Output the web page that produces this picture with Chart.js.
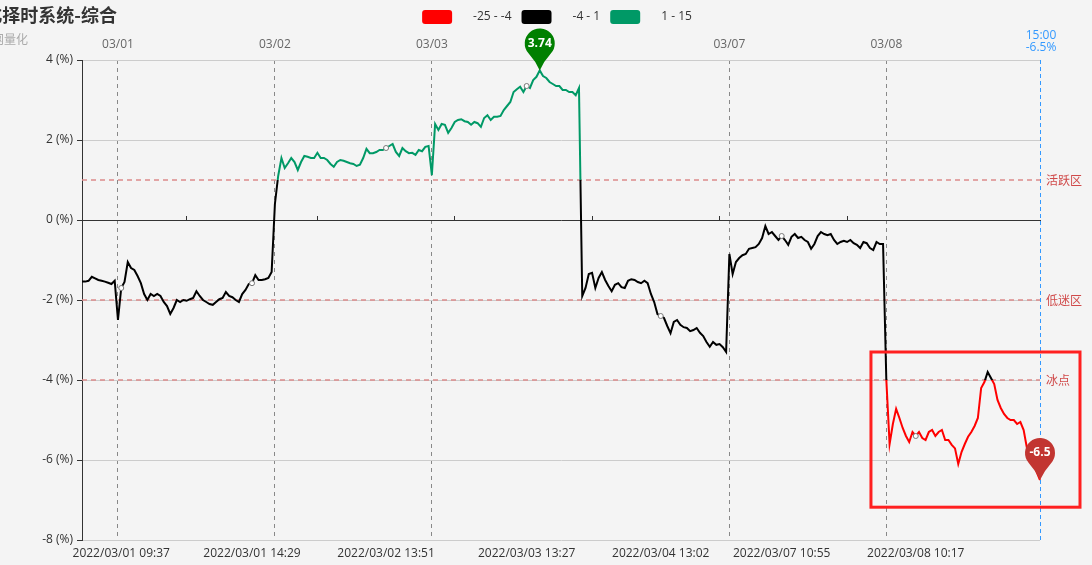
<!DOCTYPE html>
<html>
<head>
<meta charset="utf-8">
<script src="https://cdn.jsdelivr.net/npm/chart.js@4"></script>
<style>
  html, body { margin: 0; padding: 0; background: #f4f4f4; }
  #wrap { width: 1092px; height: 565px; position: relative; }
</style>
</head>
<body>
<div id="wrap"><canvas id="timingChart"></canvas></div>
<script>
// 5-minute bars, one array per trading day (values in %)
const tail0228 = [-1.54, -1.54, -1.52, -1.42, -1.46, -1.5, -1.52, -1.54, -1.57, -1.6, -1.52];
const d0301 = [-2.5, -1.7, -1.55, -1.05, -1.2, -1.25, -1.4, -1.58, -1.85, -2.0, -1.85, -1.9, -1.85, -1.9, -2.05, -2.15,
  -2.35, -2.2, -2.0, -2.05, -2.0, -2.02, -1.98, -1.95, -1.78, -1.9, -2.0, -2.05, -2.1, -2.12, -2.05, -1.98,
  -1.95, -1.8, -1.9, -1.93, -2.0, -2.05, -1.85, -1.75, -1.6, -1.58, -1.38, -1.5, -1.5, -1.48, -1.45, -1.3];
const d0302 = [0.4, 1.1, 1.55, 1.3, 1.42, 1.55, 1.45, 1.25, 1.45, 1.6, 1.58, 1.55, 1.55, 1.68, 1.55, 1.55,
  1.5, 1.4, 1.33, 1.45, 1.5, 1.48, 1.45, 1.42, 1.4, 1.35, 1.38, 1.55, 1.78, 1.67, 1.67, 1.7,
  1.75, 1.75, 1.8, 1.85, 1.9, 1.7, 1.6, 1.8, 1.72, 1.67, 1.68, 1.63, 1.75, 1.72, 1.83, 1.85];
const d0303 = [1.12, 2.4, 2.25, 2.4, 2.38, 2.18, 2.3, 2.45, 2.5, 2.52, 2.47, 2.45, 2.38, 2.45, 2.42, 2.33,
  2.55, 2.62, 2.5, 2.58, 2.58, 2.6, 2.75, 2.85, 2.95, 3.2, 3.27, 3.33, 3.2, 3.35, 3.3, 3.5,
  3.58, 3.74, 3.6, 3.55, 3.45, 3.4, 3.35, 3.35, 3.25, 3.25, 3.2, 3.2, 3.12, 3.3];
const d0304 = [-1.9, -1.7, -1.35, -1.32, -1.7, -1.45, -1.3, -1.5, -1.65, -1.78, -1.62, -1.58, -1.68, -1.7, -1.52,
  -1.48, -1.5, -1.55, -1.58, -1.52, -1.58, -1.85, -2.05, -2.35, -2.4, -2.45, -2.65, -2.83, -2.55, -2.5,
  -2.62, -2.68, -2.7, -2.78, -2.75, -2.7, -2.82, -2.9, -3.05, -3.17, -3.05, -3.12, -3.1, -3.18, -3.3];
const d0307 = [-0.85, -1.35, -1.05, -0.95, -0.88, -0.85, -0.72, -0.7, -0.68, -0.6, -0.45, -0.15, -0.35, -0.3, -0.4, -0.5,
  -0.4, -0.5, -0.62, -0.42, -0.35, -0.45, -0.42, -0.5, -0.55, -0.72, -0.6, -0.4, -0.3, -0.35, -0.38, -0.35,
  -0.5, -0.6, -0.55, -0.52, -0.55, -0.5, -0.58, -0.62, -0.7, -0.55, -0.58, -0.7, -0.75, -0.55, -0.6, -0.6];
const d0308 = [-4.0, -5.6, -5.1, -4.72, -4.95, -5.2, -5.4, -5.55, -5.3, -5.4, -5.3, -5.45, -5.5, -5.3, -5.25, -5.4,
  -5.3, -5.25, -5.5, -5.5, -5.62, -5.71, -6.1, -5.8, -5.6, -5.42, -5.3, -5.15, -4.95, -4.2, -4.05, -3.8,
  -3.95, -4.1, -4.5, -4.7, -4.85, -4.95, -5.0, -5.0, -5.1, -5.05, -5.25, -5.7, -6.0, -6.1, -6.3, -6.5];

const dayDates = ['2022/02/28', '2022/03/01', '2022/03/02', '2022/03/03', '2022/03/04', '2022/03/07', '2022/03/08'];
const dayValues = [tail0228, d0301, d0302, d0303, d0304, d0307, d0308];

// visualMap pieces
const pieceLabels = ['-25 - -4', '-4 - 1', '1 - 15'];
const pieceBounds = [-25, -4, 1, 15];
const pieceColors = ['#ff0000', '#000000', '#009966'];

// marked zones
const zoneValues = [1, -2, -4];
const zoneNames = ['活跃区', '低迷区', '冰点'];

const topDays = ['03/01', '03/02', '03/03', '03/07', '03/08'];
const bottomTicks = ['2022/03/01 09:37', '2022/03/01 14:29', '2022/03/02 13:51', '2022/03/03 13:27',
  '2022/03/04 13:02', '2022/03/07 10:55', '2022/03/08 10:17'];

const titleText = '量化择时系统-综合';
const subTitleText = '网量化';

// bar end times of a session: 09:35 ... 11:30, 13:05 ... 15:00
const sessionTimes = [];
for (let m = 5; m <= 240; m += 5) {
  const t = m <= 120 ? 570 + m : 780 + m - 120;
  sessionTimes.push(String(Math.floor(t / 60)).padStart(2, '0') + ':' + String(t % 60).padStart(2, '0'));
}
function sessionMinute(hhmm) {
  const [h, m] = hhmm.split(':').map(Number);
  const t = h * 60 + m;
  return t <= 690 ? t - 570 : t - 780 + 120;
}

const labels = [];
const values = [];
dayValues.forEach((vals, d) => {
  const times = d === 0 ? sessionTimes.slice(-vals.length) : sessionTimes.slice(0, vals.length);
  vals.forEach((v, i) => {
    labels.push(dayDates[d] + ' ' + times[i]);
    values.push(v);
  });
});

const bottomIdx = bottomTicks.map(s => {
  const [d, t] = s.split(' ');
  const tm = sessionMinute(t);
  return labels.findIndex(l => {
    const [ld, lt] = l.split(' ');
    return ld === d && sessionMinute(lt) >= tm;
  });
});
const topIdx = topDays.map(day => labels.findIndex(l => l.startsWith('2022/' + day)));
const zeroTickIdx = bottomIdx.slice(1).map((v, i) => Math.floor((v + bottomIdx[i]) / 2));

const lastIdx = values.length - 1;
const maxIdx = values.indexOf(Math.max(...values));

function lineGradient(chart) {
  const {ctx, chartArea, scales} = chart;
  if (!chartArea) return '#000';
  const top = chartArea.top, h = chartArea.bottom - chartArea.top;
  const g = ctx.createLinearGradient(0, top, 0, chartArea.bottom);
  let prev = 0;
  for (let k = pieceColors.length - 1; k >= 0; k--) {
    const lowPx = scales.y.getPixelForValue(pieceBounds[k]);
    const f = Math.min(1, Math.max(0, (lowPx - top) / h));
    g.addColorStop(prev, pieceColors[k]);
    g.addColorStop(f, pieceColors[k]);
    prev = f;
  }
  return g;
}

function drawPin(ctx, x, tipY, color, text) {
  const r = 15, cy = tipY - 27;
  const a = 0.85;
  ctx.save();
  ctx.fillStyle = color;
  ctx.beginPath();
  ctx.arc(x, cy, r, Math.PI / 2 + a, Math.PI / 2 - a);
  ctx.quadraticCurveTo(x + 4, tipY - 9, x, tipY);
  ctx.quadraticCurveTo(x - 4, tipY - 9, x - r * Math.sin(a), cy + r * Math.cos(a));
  ctx.closePath();
  ctx.fill();
  ctx.fillStyle = '#fff';
  ctx.font = "bold 12px 'Open Sans', sans-serif";
  ctx.textAlign = 'center';
  ctx.textBaseline = 'middle';
  ctx.fillText(text, x, cy);
  ctx.restore();
}

const overlay = {
  id: 'overlay',
  beforeDatasetsDraw(chart) {
    const {ctx, chartArea: a, scales: {x, y}} = chart;
    ctx.save();
    ctx.strokeStyle = '#dc8a8a';
    ctx.lineWidth = 1.5;
    ctx.setLineDash([5, 4]);
    zoneValues.forEach(v => {
      const py = y.getPixelForValue(v);
      ctx.beginPath();
      ctx.moveTo(a.left, py);
      ctx.lineTo(a.right, py);
      ctx.stroke();
    });
    const lx = Math.round(x.getPixelForValue(lastIdx)) + 0.5;
    ctx.strokeStyle = '#3399ff';
    ctx.lineWidth = 1;
    ctx.setLineDash([4, 3]);
    ctx.beginPath();
    ctx.moveTo(lx, a.top);
    ctx.lineTo(lx, a.bottom);
    ctx.stroke();
    ctx.restore();
  },
  afterDatasetsDraw(chart) {
    const {ctx, chartArea: a, scales: {x, y}} = chart;
    // highlight box around the latest slump
    const bx0 = x.getPixelForValue(241.3), bx1 = a.right + 40;
    const by0 = y.getPixelForValue(-3.3), by1 = y.getPixelForValue(-7.18);
    ctx.save();
    ctx.strokeStyle = '#ff2020';
    ctx.lineWidth = 3;
    ctx.strokeRect(bx0, by0, bx1 - bx0, by1 - by0);
    ctx.restore();

    drawPin(ctx, x.getPixelForValue(maxIdx), y.getPixelForValue(values[maxIdx]), '#008000', String(values[maxIdx]));
    drawPin(ctx, x.getPixelForValue(lastIdx), y.getPixelForValue(values[lastIdx]), '#c23531', String(values[lastIdx]));
  },
  afterDraw(chart) {
    const {ctx, chartArea: a, scales: {x, y}} = chart;
    ctx.save();
    // title
    ctx.textBaseline = 'middle';
    ctx.textAlign = 'right';
    ctx.fillStyle = '#333';
    ctx.font = "bold 18px 'Noto Sans CJK SC', sans-serif";
    ctx.fillText(titleText, 117, 15);
    ctx.fillStyle = '#aaa';
    ctx.font = "12px 'Noto Sans CJK SC', sans-serif";
    ctx.fillText(subTitleText, 28, 39);

    // legend (visualMap pieces)
    ctx.font = "12px 'Open Sans', 'Noto Sans CJK SC', sans-serif";
    ctx.textAlign = 'left';
    const boxW = 30, boxH = 14, gap = 21, itemGap = 10;
    const widths = pieceLabels.map(t => boxW + gap + ctx.measureText(t).width);
    const total = widths.reduce((s, w) => s + w, 0) + itemGap * (widths.length - 1);
    let lx = (a.left + a.right) / 2 - total / 2 - 4;
    pieceLabels.forEach((t, i) => {
      ctx.fillStyle = pieceColors[i];
      ctx.beginPath();
      ctx.roundRect(lx, 10, boxW, boxH, 3);
      ctx.fill();
      ctx.fillStyle = '#333';
      ctx.fillText(t, lx + boxW + gap, 17);
      lx += widths[i] + itemGap;
    });

    // zone names
    ctx.fillStyle = '#d04a4a';
    ctx.font = "12px 'Noto Sans CJK SC', sans-serif";
    zoneValues.forEach((v, i) => ctx.fillText(zoneNames[i], a.right + 6, y.getPixelForValue(v)));

    // latest value readout
    const px = x.getPixelForValue(lastIdx);
    ctx.fillStyle = '#3399ff';
    ctx.textAlign = 'center';
    ctx.font = "12px 'Open Sans', sans-serif";
    ctx.fillText(labels[lastIdx].split(' ')[1], px + 1, 36);
    ctx.fillText(values[lastIdx] + '%', px + 1, 48);
    ctx.restore();
  }
};

Chart.defaults.font.family = "'Open Sans', 'Noto Sans CJK SC', sans-serif";
Chart.defaults.font.size = 12;

const ctx = document.getElementById('timingChart').getContext('2d');
new Chart(ctx, {
  type: 'line',
  data: {
    labels: labels,
    datasets: [{
      data: values,
      borderColor: c => lineGradient(c.chart),
      borderWidth: 2,
      tension: 0,
      pointRadius: c => bottomIdx.includes(c.dataIndex) ? 2.5 : 0,
      pointBackgroundColor: '#fff',
      pointBorderColor: '#777',
      pointBorderWidth: 1,
      xAxisID: 'x',
      yAxisID: 'y'
    }]
  },
  options: {
    responsive: true,
    maintainAspectRatio: false,
    animation: false,
    layout: { padding: { left: 0, right: 52, top: 38, bottom: 0 } },
    plugins: {
      legend: { display: false },
      tooltip: { enabled: false }
    },
    scales: {
      x: {
        position: 'bottom',
        grid: { display: false, drawTicks: false },
        border: { display: false },
        ticks: {
          autoSkip: false,
          maxRotation: 0,
          color: '#333',
          padding: 6,
          callback: (v, i) => bottomTicks[i]
        },
        afterBuildTicks: s => { s.ticks = bottomIdx.map(v => ({ value: v })); },
        afterFit: s => { s.height = 25; }
      },
      x2: {
        position: 'top',
        grid: { color: '#888', lineWidth: 1, drawTicks: false },
        border: { display: false, dash: [4, 4] },
        ticks: {
          autoSkip: false,
          maxRotation: 0,
          color: '#666',
          padding: 8,
          callback: (v, i) => topDays[i]
        },
        afterBuildTicks: s => { s.ticks = topIdx.map(v => ({ value: v })); },
        afterFit: s => { s.height = 22; }
      },
      xz: {
        position: { y: 0 },
        grid: { drawOnChartArea: false, tickLength: -5, tickColor: '#333' },
        border: { color: '#333' },
        ticks: { display: false },
        afterBuildTicks: s => { s.ticks = zeroTickIdx.map(v => ({ value: v })); }
      },
      y: {
        min: -8,
        max: 4,
        grid: { color: '#ccc', tickColor: '#333', tickLength: 5 },
        border: { color: '#333' },
        ticks: {
          stepSize: 2,
          color: '#333',
          padding: 4,
          callback: v => v + ' (%)'
        },
        afterFit: s => { s.width = 82; }
      }
    }
  },
  plugins: [overlay]
});
</script>
</body>
</html>
